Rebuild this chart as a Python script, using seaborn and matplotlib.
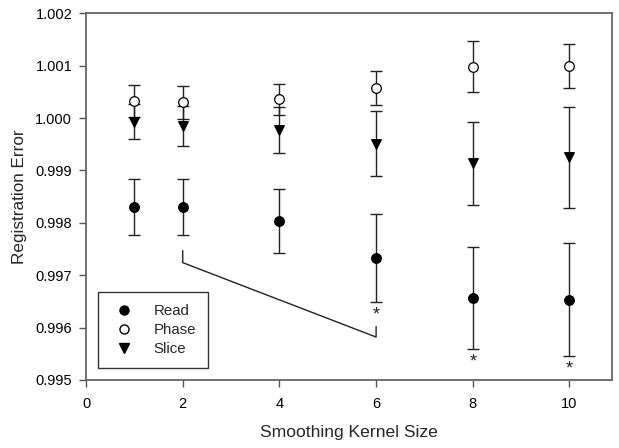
import matplotlib
matplotlib.use("Agg")
import matplotlib.pyplot as plt
import seaborn as sns
import pandas as pd
from matplotlib.lines import Line2D

sns.set_theme(style="white")
plt.rcParams['font.family'] = ['Liberation Sans', 'DejaVu Sans']

kernel = [1, 2, 4, 6, 8, 10]
read_mean = [0.99830, 0.99830, 0.99804, 0.99733, 0.99656, 0.99653]
read_err = [0.00054, 0.00054, 0.00061, 0.00084, 0.00097, 0.00108]
phase_mean = [1.00033, 1.00030, 1.00036, 1.00057, 1.00098, 1.00100]
phase_err = [0.00031, 0.00031, 0.00030, 0.00032, 0.00049, 0.00042]
slice_mean = [0.99993, 0.99985, 0.99977, 0.99951, 0.99914, 0.99925]
slice_err = [0.00033, 0.00038, 0.00044, 0.00062, 0.00079, 0.00097]
sig_x = [6, 8, 10]
bracket_x = [2, 2, 6, 6]
bracket_y = [0.99747, 0.99724, 0.99582, 0.99602]

df = pd.concat([
    pd.DataFrame({"kernel": kernel, "mean": read_mean, "err": read_err, "series": "Read"}),
    pd.DataFrame({"kernel": kernel, "mean": phase_mean, "err": phase_err, "series": "Phase"}),
    pd.DataFrame({"kernel": kernel, "mean": slice_mean, "err": slice_err, "series": "Slice"}),
])

fig = plt.figure(figsize=(6.19, 4.48), dpi=100)
ax = fig.add_axes([0.139, 0.1518, 0.8497, 0.8185])

ebc = "#222222"
for name in ["Read", "Slice", "Phase"]:
    d = df[df.series == name]
    ax.errorbar(d["kernel"], d["mean"], yerr=d["err"], fmt="none", ecolor=ebc,
                elinewidth=1.0, capsize=4.5, capthick=1.0, zorder=2)

styles = {"Read": ("o", "black"), "Phase": ("o", "white"), "Slice": ("v", "black")}
for name in ["Read", "Slice", "Phase"]:
    d = df[df.series == name]
    m, fc = styles[name]
    sns.scatterplot(data=d, x="kernel", y="mean", marker=m, s=48, color=fc,
                    edgecolor="black", linewidth=0.9, ax=ax, zorder=3, legend=False)

# significance asterisks below Read lower caps
for xv in sig_x:
    i = kernel.index(xv)
    ax.text(xv, read_mean[i] - read_err[i] - 0.00008, "*", ha="center", va="top",
            fontsize=13, color="#222222")

ax.plot(bracket_x, bracket_y, color="#222222", lw=1.0, zorder=2)

ax.set_xlim(0, 10.88)
ax.set_ylim(0.995, 1.002)
ax.set_xticks([0, 2, 4, 6, 8, 10])
ax.set_yticks([0.995, 0.996, 0.997, 0.998, 0.999, 1.000, 1.001, 1.002])
ax.yaxis.set_major_formatter(matplotlib.ticker.FormatStrFormatter("%.3f"))
ax.tick_params(axis="both", which="major", direction="out", length=5, width=1.0,
               color="#555555", labelsize=10.5, labelcolor="black", pad=5,
               bottom=True, left=True)
ax.tick_params(axis="x", pad=7)
for sp in ax.spines.values():
    sp.set_color("#666666")
    sp.set_linewidth(1.3)
ax.set_xlabel("Smoothing Kernel Size", fontsize=12.6, labelpad=10)
ax.set_ylabel("Registration Error", fontsize=12.3, labelpad=6)

handles = [
    Line2D([], [], marker="o", ls="none", mfc="black", mec="black", ms=6.5),
    Line2D([], [], marker="o", ls="none", mfc="white", mec="black", ms=6.5),
    Line2D([], [], marker="v", ls="none", mfc="black", mec="black", ms=6.5),
]
leg = ax.legend(handles, ["Read", "Phase", "Slice"], loc="lower left",
                bbox_to_anchor=(0.0225, 0.033), fontsize=10.8, frameon=True,
                fancybox=False, edgecolor="black", handletextpad=1.0,
                borderpad=0.8, labelspacing=0.32, handlelength=1.9,
                borderaxespad=0)
leg.get_frame().set_linewidth(1.0)

fig.savefig("out.png", dpi=100)
